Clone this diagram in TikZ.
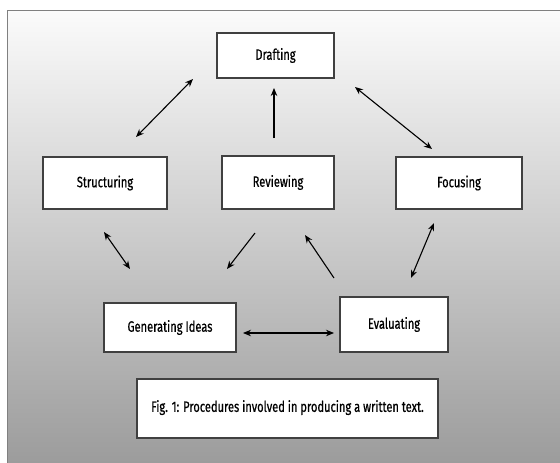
\documentclass[tikz,border=0pt]{standalone}
\usepackage{fontspec}
\setmainfont[FakeStretch=0.74,FakeBold=0.6]{Fira Sans}
\usetikzlibrary{arrows.meta}
\definecolor{boxline}{HTML}{404040}
\definecolor{frameline}{HTML}{808080}
\definecolor{topgray}{HTML}{FBFBFB}
\definecolor{botgray}{HTML}{9C9C9C}
\tikzset{
  procbox/.style={draw=boxline, line width=1.2pt, fill=white, inner sep=0pt,
    font=\fontsize{15}{17}\selectfont, text=black},
  conn/.style={line width=1.1pt, black},
  tip/.style={-{Stealth[length=8pt,width=6.5pt]}},
  biti/.style={{Stealth[length=8pt,width=6.5pt]}-{Stealth[length=8pt,width=6.5pt]}}
}
\begin{document}
\begin{tikzpicture}[x=1pt,y=-1pt]
\useasboundingbox (0,0) rectangle (560,463);
\fill[white] (0,0) rectangle (560,463);
\shade[top color=topgray, bottom color=botgray] (7,10) rectangle (560,463);
\draw[frameline, line width=1pt] (7,463) -- (7,10) -- (560,10);

\node[procbox, minimum width=117pt, minimum height=45pt] (draft) at (275.5,55.5) {Drafting};
\node[procbox, minimum width=124pt, minimum height=52pt] (struct) at (105,183) {Structuring};
\node[procbox, minimum width=112pt, minimum height=53pt] (review) at (278,182.5) {\raisebox{2pt}{Reviewing}};
\node[procbox, minimum width=126pt, minimum height=52pt] (focus) at (459,183) {Focusing};
\node[procbox, minimum width=132pt, minimum height=49pt] (gen) at (170,327.5) {Generating Ideas};
\node[procbox, minimum width=108pt, minimum height=55pt] (eval) at (394,324.5) {\raisebox{3pt}{Evaluating}};
\node[procbox, minimum width=301pt, minimum height=59pt] (cap) at (287.5,408.5) {\raisebox{5pt}{Fig. 1: Procedures involved in producing a written text.}};

\coordinate (ds1) at (193,79);
\coordinate (ds2) at (136,137);
\coordinate (rd1) at (274,138);
\coordinate (rd2) at (274,88);
\coordinate (df1) at (355,87);
\coordinate (df2) at (432,149);
\coordinate (sg1) at (104,232);
\coordinate (sg2) at (130,269);
\coordinate (rg1) at (255,233);
\coordinate (rg2) at (227,269);
\coordinate (er1) at (334,278);
\coordinate (er2) at (305,235);
\coordinate (fe1) at (434,223);
\coordinate (fe2) at (411,278);
\coordinate (ge1) at (243,333);
\coordinate (ge2) at (334,333);

\draw[conn, biti] (ds1) -- (ds2);
\draw[conn, tip] (rd1) -- (rd2);
\draw[conn, biti] (df1) -- (df2);
\draw[conn, biti] (sg1) -- (sg2);
\draw[conn, tip] (rg1) -- (rg2);
\draw[conn, tip] (er1) -- (er2);
\draw[conn, biti] (fe1) -- (fe2);
\draw[conn, biti] (ge1) -- (ge2);
\end{tikzpicture}
\end{document}
